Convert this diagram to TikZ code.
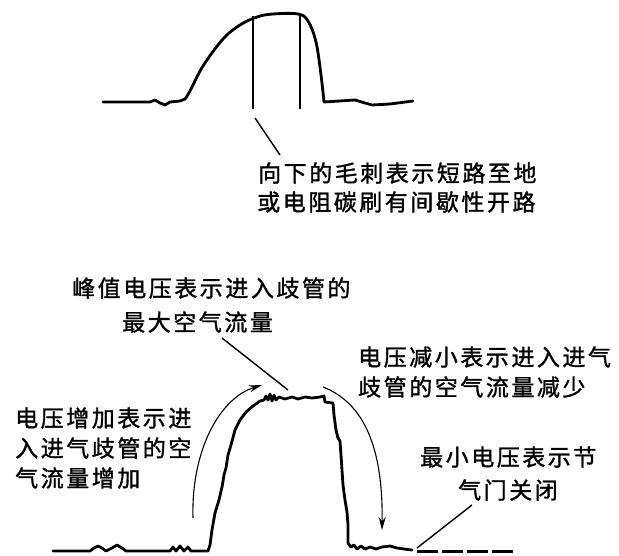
\documentclass[tikz,border=0pt]{standalone}
\usepackage{fontspec}
\newfontfamily\cjk[LetterSpace=11,FakeBold=1.3]{Noto Sans CJK SC}
\usetikzlibrary{arrows.meta}
\tikzset{
  wave/.style={line width=2.8pt, line join=round, line cap=round},
  spike/.style={line width=2.6pt},
  leader/.style={line width=1.4pt},
  flowarrow/.style={line width=1.1pt, -{Stealth[length=13pt,width=7pt]}},
  lbl/.style={font=\cjk\fontsize{23}{30}\selectfont, inner sep=0pt, anchor=west}
}
\begin{document}
\begin{tikzpicture}[x=1pt,y=-1pt]
\useasboundingbox (0,0) rectangle (619,555);

% ---------- top waveform ----------
\draw[wave] (103,102) -- (150,102) -- (155,100) -- (160,103) -- (165,105) -- (170,102) -- (180,101)
  --plot[smooth, tension=0.6] coordinates {(185,99) (190,91) (203,66) (223,39) (240,25) (257,17) (273,14) (298,14) (308,21) (316,42) (321,75) (324,102)}
  -- (355,100) -- (365,103) -- (372,105) -- (390,104) -- (413,101);
\coordinate (s1t) at (253,16);
\coordinate (s1b) at (253,109);
\coordinate (s2t) at (300,14);
\coordinate (s2b) at (300,109);
\draw[spike] (s1t) -- (s1b);
\draw[spike] (s2t) -- (s2b);

\node[lbl] (t1) at (258,173) {向下的毛刺表示短路至地};
\node[lbl] (t2) at (257,202) {或电阻碳刷有间歇性开路};
\coordinate (t1a) at (280,155);
\coordinate (t1b) at (255,118);
\draw[leader] (t1a) -- (t1b);

% ---------- bottom waveform ----------
\draw[wave] (53,551) -- (90,551) -- (94,548) -- (98,546) -- (102,548) -- (106,551) -- (112,548) -- (117,545) -- (122,548) -- (126,551)
  -- (170,551) -- (173,547) -- (176,551) -- (180,546) -- (184,551) -- (188,547) -- (191,551) -- (208,551)
  -- (210,545) -- (212,530) -- (215,513) -- (219,500) -- (222,487) -- (224,475) -- (226,468) -- (228,455) -- (231,445)
  -- (235,430) -- (240,420) -- (246,412) -- (253,406) -- (260,401) -- (264,400) -- (266,396) -- (268,400) -- (270,394)
  -- (272,401) -- (274,395) -- (276,400) -- (279,397) -- (285,399) -- (292,397) -- (298,399) -- (305,397) -- (312,398)
  -- (320,397) -- (324,396) -- (325,402) -- (333,403) -- (334,415) -- (336,430) -- (338,438) -- (340,441) -- (341,455)
  -- (342,470) -- (343,485) -- (345,500) -- (347,512) -- (348,525) -- (348,543) -- (351,547) -- (354,545) -- (357,549)
  -- (361,546) -- (365,549) -- (370,547) -- (376,549) -- (382,547) -- (390,546) -- (397,548) -- (404,549) -- (412,550);
\coordinate (d1) at (417,551);
\coordinate (d2) at (513,551);
\draw[line width=3pt, dash pattern=on 21pt off 4pt] (d1) -- (d2);

% ---------- labels ----------
\node[lbl] (p1) at (72,288) {峰值电压表示进入歧管的};
\node[lbl] (p2) at (122,322) {最大空气流量};
\coordinate (pa) at (222,338);
\coordinate (pb) at (288,390);
\draw[leader] (pa) -- (pb);

\node[lbl] (r1) at (358,357) {电压减小表示进入进气};
\node[lbl] (r2) at (358,387) {歧管的空气流量减少};

\node[lbl] (l1) at (15,418) {电压增加表示进};
\node[lbl] (l2) at (15,448) {入进气歧管的空};
\node[lbl] (l3) at (15,478) {气流量增加};

\node[lbl] (b1) at (420,457) {最小电压表示节};
\node[lbl] (b2) at (458,490) {气门关闭};
\coordinate (ba) at (472,505);
\coordinate (bb) at (417,548);
\draw[leader] (ba) -- (bb);

% ---------- arrows ----------
\coordinate (la) at (193,518);
\coordinate (lb) at (262,385);
\draw[flowarrow] (la) .. controls (191,450) and (220,398) .. (lb);
\coordinate (ra) at (323,387);
\coordinate (rb) at (382,530);
\draw[flowarrow] (ra) .. controls (370,405) and (383,460) .. (rb);
\end{tikzpicture}
\end{document}
